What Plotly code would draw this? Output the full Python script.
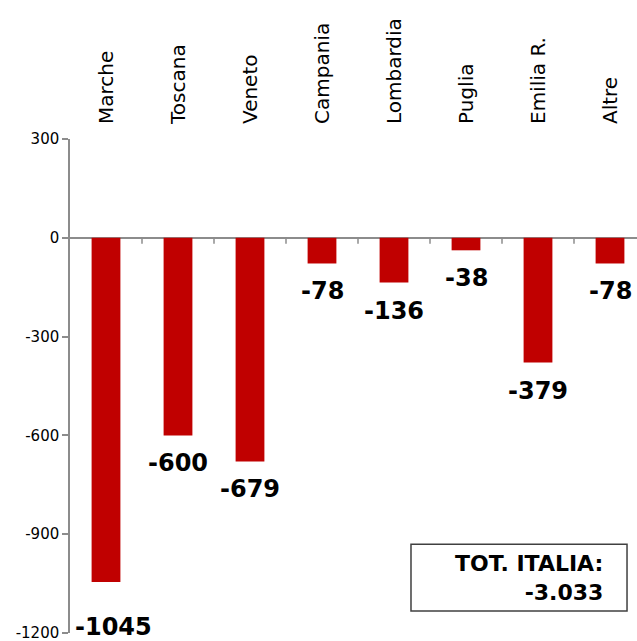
import plotly.graph_objects as go

regions = ["Marche", "Toscana", "Veneto", "Campania", "Lombardia", "Puglia", "Emilia R.", "Altre"]
values = [-1045, -600, -679, -78, -136, -38, -379, -78]
y_ticks = [300, 0, -300, -600, -900, -1200]
total_label = "TOT. ITALIA:<br>-3.033"

FONT = "DejaVu Sans, Verdana, sans-serif"
RED = "#C00000"
GREY = "#8C8C8C"

# manual label nudges (pixels) as in the original chart
label_nudge = {"Marche": (7, -17)}

x_idx = list(range(len(regions)))

fig = go.Figure()
fig.add_trace(go.Bar(
    x=x_idx, y=values, width=0.4,
    marker=dict(color=RED, line=dict(width=0)),
    hoverinfo="skip",
))

# data labels below bars
for xi, name, v in zip(x_idx, regions, values):
    dx, dy = label_nudge.get(name, (0, 0))
    fig.add_annotation(
        x=xi, y=v, xref="x", yref="y", text=f"<b>{v}</b>",
        showarrow=False, yanchor="top", xanchor="center",
        xshift=dx, yshift=-12 + dy,
        font=dict(family=FONT, size=24, color="black"),
    )

# tick marks on the zero line at category boundaries
for xi in x_idx[:-1]:
    fig.add_shape(
        type="line", xref="x", yref="y",
        x0=xi + 0.5, x1=xi + 0.5, y0=0, y1=-6,
        ysizemode="pixel", yanchor=0,
        line=dict(color=GREY, width=1.5),
    )

# total box
fig.add_shape(type="rect", xref="paper", yref="paper",
              x0=0.6014, x1=0.9824, y0=0.0444, y1=0.1798,
              line=dict(color="#404040", width=1.5), fillcolor="white")
fig.add_annotation(
    x=0.9436, y=0.111, xref="paper", yref="paper",
    text=f"<b>{total_label}</b>", showarrow=False, align="right",
    xanchor="right", yanchor="middle",
    font=dict(family=FONT, size=22, color="black"),
)

fig.update_layout(
    width=637, height=641,
    margin=dict(l=70, r=0, t=139, b=8, autoexpand=False),
    plot_bgcolor="white", paper_bgcolor="white",
    showlegend=False,
    xaxis=dict(
        side="top", range=[-0.5, 7.375],
        tickmode="array", tickvals=x_idx, ticktext=regions,
        tickangle=-90, ticks="", showline=False, showgrid=False, zeroline=False,
        tickfont=dict(family=FONT, size=20, color="black"),
        ticklabelstandoff=14, automargin=False,
    ),
    yaxis=dict(
        range=[-1200, 300], tickmode="array", tickvals=y_ticks,
        ticktext=[str(t) for t in y_ticks],
        showline=True, linecolor=GREY, linewidth=1.5,
        ticks="outside", ticklen=6, tickcolor=GREY, tickwidth=1.5,
        showgrid=False, zeroline=True, zerolinecolor=GREY, zerolinewidth=2,
        tickfont=dict(family=FONT, size=15, color="black"),
        ticklabeloverflow="allow", automargin=False,
    ),
)

fig.write_html("out.html")
